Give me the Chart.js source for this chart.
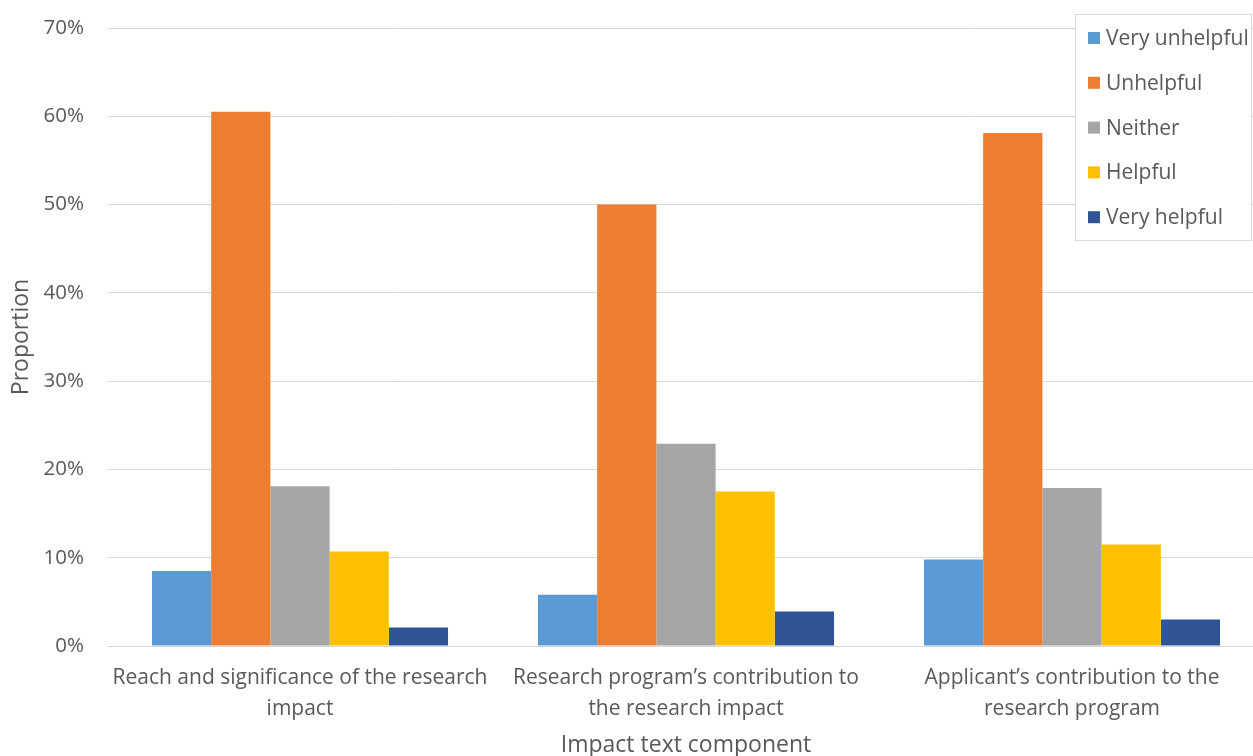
<!DOCTYPE html>
<html>
<head>
<meta charset="utf-8">
<script src="https://cdn.jsdelivr.net/npm/chart.js@4/dist/chart.umd.min.js"></script>
<style>
  html, body { margin: 0; padding: 0; background: #fff; overflow: hidden; }
  canvas { display: block; }
</style>
</head>
<body>
<canvas id="chart" width="1265" height="770"></canvas>
<script>
// categories along the x axis (two lines each)
const components = [
    ["Reach and significance of the research", "impact"],
    ["Research program\u2019s contribution to", "the research impact"],
    ["Applicant\u2019s contribution to the", "research program"]
];

// proportion of responses, in %
const veryUnhelpful = [8.5, 5.8, 9.8];
const unhelpful     = [60.5, 50.0, 58.1];
const neither       = [18.1, 22.9, 17.9];
const helpful       = [10.7, 17.5, 11.5];
const veryHelpful   = [2.1, 3.9, 3.0];

const seriesNames  = ["Very unhelpful", "Unhelpful", "Neither", "Helpful", "Very helpful"];
const seriesColors = ["#5B9BD5", "#ED7D31", "#A5A5A5", "#FFC000", "#2F5597"];
const seriesValues = [veryUnhelpful, unhelpful, neither, helpful, veryHelpful];

const yTicks = [0, 10, 20, 30, 40, 50, 60, 70];

const FONT = "'Open Sans', sans-serif";
const TEXT = "#595959";

// legend box drawn over the top right of the plot
const boxLegend = {
    id: "boxLegend",
    afterDraw(chart) {
        const ctx = chart.ctx;
        const x = 1075.5, y = 14.5, w = 176, h = 226;
        ctx.save();
        ctx.fillStyle = "#fff";
        ctx.fillRect(x, y, w, h);
        ctx.strokeStyle = "#d9d9d9";
        ctx.lineWidth = 1;
        ctx.strokeRect(x, y, w, h);
        ctx.font = "21px " + FONT;
        ctx.textBaseline = "middle";
        chart.data.datasets.forEach((ds, i) => {
            const cy = 38 + i * 44.8;
            ctx.fillStyle = ds.backgroundColor;
            ctx.fillRect(1088, cy - 6, 12, 12);
            ctx.fillStyle = TEXT;
            ctx.fillText(ds.label, 1106, cy + 1);
        });
        ctx.restore();
    }
};

new Chart(document.getElementById("chart"), {
    type: "bar",
    data: {
        labels: components,
        datasets: seriesNames.map((name, i) => ({
            label: name,
            data: seriesValues[i],
            backgroundColor: seriesColors[i],
            borderWidth: 0,
            categoryPercentage: 0.767,
            barPercentage: 1.0
        }))
    },
    options: {
        responsive: false,
        animation: false,
        layout: { padding: { top: 28, left: 0, right: 0, bottom: 0 } },
        plugins: {
            legend: { display: false },
            tooltip: { enabled: false }
        },
        scales: {
            x: {
                grid: { display: false },
                border: { display: false },
                ticks: {
                    color: TEXT,
                    font: { family: FONT, size: 21, lineHeight: 1.45 },
                    padding: 9,
                    maxRotation: 0,
                    autoSkip: false
                },
                title: {
                    display: true,
                    text: "Impact text component",
                    color: TEXT,
                    font: { family: FONT, size: 23, lineHeight: 1.2 },
                    padding: { top: 0, bottom: 11 }
                },
                afterFit(scale) { scale.height = 124; }
            },
            y: {
                min: 0,
                max: 70,
                afterBuildTicks(scale) {
                    scale.ticks = yTicks.map(v => ({ value: v }));
                },
                grid: { color: "#d9d9d9", lineWidth: 1, drawTicks: false },
                border: { display: false },
                ticks: {
                    color: TEXT,
                    font: { family: FONT, size: 20.5 },
                    padding: 23,
                    callback: v => v + "%"
                },
                title: {
                    display: true,
                    text: "Proportion",
                    color: TEXT,
                    font: { family: FONT, size: 23, lineHeight: 1.2 },
                    padding: { top: 8, bottom: 0 }
                },
                afterFit(scale) {
                    scale.width = 107;
                    scale.paddingTop = 0;
                    scale.paddingBottom = 0;
                }
            }
        }
    },
    plugins: [boxLegend]
});
</script>
</body>
</html>
